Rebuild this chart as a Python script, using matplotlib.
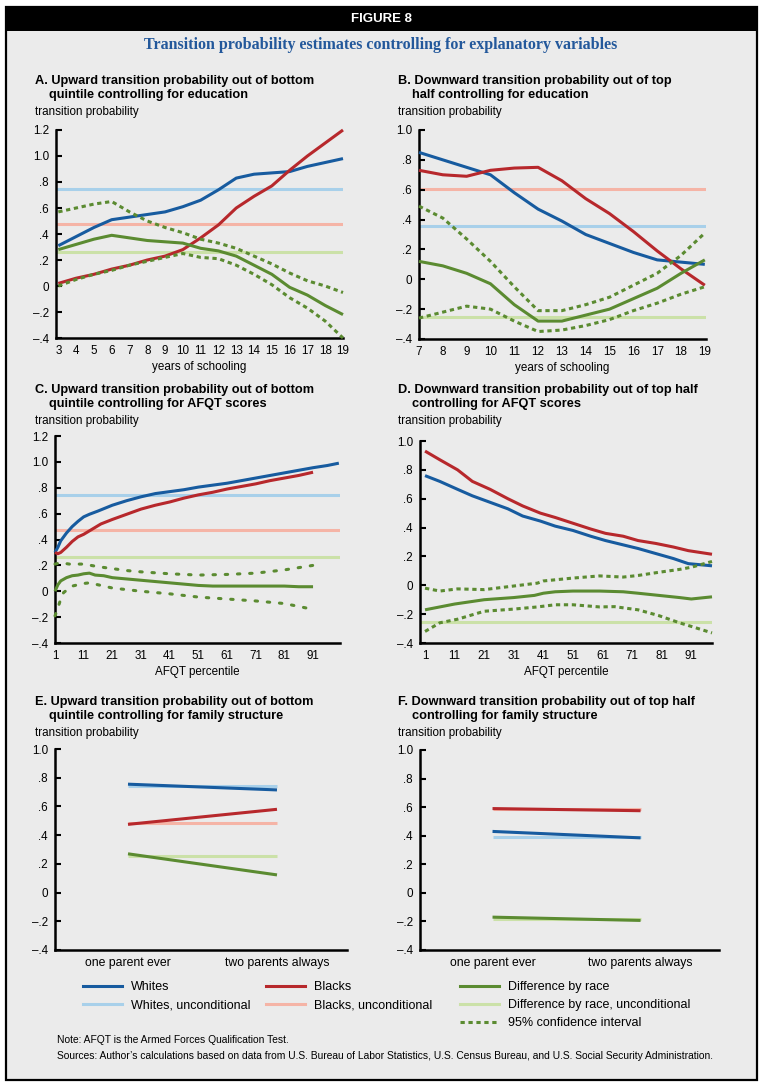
import numpy as np
import matplotlib
matplotlib.use("Agg")
import matplotlib.pyplot as plt
from matplotlib import font_manager
from matplotlib.lines import Line2D
from matplotlib.patches import Rectangle

# ---------------- data ----------------
# Panel A: upward transition, controlling for education (years of schooling)
a_years = [3, 4, 5, 6, 7, 8, 9, 10, 11, 12, 13, 14, 15, 16, 17, 18, 19]
a_whites = [0.31, 0.38, 0.45, 0.51, 0.53, 0.55, 0.57, 0.61, 0.66, 0.74, 0.83, 0.86, 0.87, 0.88, 0.92, 0.95, 0.98]
a_blacks = [0.02, 0.06, 0.09, 0.13, 0.16, 0.20, 0.23, 0.28, 0.37, 0.47, 0.60, 0.69, 0.77, 0.89, 1.00, 1.10, 1.20]
a_diff = [0.28, 0.32, 0.36, 0.39, 0.37, 0.35, 0.34, 0.33, 0.29, 0.27, 0.23, 0.16, 0.09, -0.01, -0.07, -0.15, -0.22]
a_ci_hi = [0.57, 0.60, 0.63, 0.65, 0.57, 0.50, 0.45, 0.41, 0.36, 0.33, 0.29, 0.23, 0.17, 0.10, 0.04, 0.00, -0.05]
a_ci_lo = [0.00, 0.05, 0.09, 0.12, 0.16, 0.19, 0.22, 0.25, 0.22, 0.21, 0.16, 0.09, 0.01, -0.09, -0.17, -0.27, -0.40]
a_unc_whites, a_unc_blacks, a_unc_diff = 0.745, 0.475, 0.265

# Panel B: downward transition, controlling for education
b_years = [7, 8, 9, 10, 11, 12, 13, 14, 15, 16, 17, 18, 19]
b_whites = [0.85, 0.80, 0.75, 0.70, 0.58, 0.47, 0.39, 0.30, 0.24, 0.18, 0.13, 0.115, 0.10]
b_blacks = [0.73, 0.70, 0.69, 0.73, 0.745, 0.75, 0.66, 0.54, 0.44, 0.32, 0.19, 0.07, -0.04]
b_diff = [0.12, 0.09, 0.04, -0.03, -0.17, -0.28, -0.28, -0.24, -0.20, -0.13, -0.06, 0.04, 0.13]
b_ci_hi = [0.49, 0.41, 0.27, 0.12, -0.05, -0.21, -0.21, -0.17, -0.12, -0.04, 0.04, 0.16, 0.31]
b_ci_lo = [-0.26, -0.22, -0.18, -0.20, -0.28, -0.35, -0.34, -0.31, -0.27, -0.21, -0.16, -0.10, -0.05]
b_unc_whites, b_unc_blacks, b_unc_diff = 0.355, 0.605, -0.255

# Panel C: upward transition, controlling for AFQT percentile
c_w_pct = [1, 2, 3, 5, 7, 9, 11, 13, 16, 21, 26, 31, 36, 41, 46, 51, 56, 61, 66, 71, 76, 81, 86, 91, 96, 100]
c_whites = [0.30, 0.34, 0.39, 0.45, 0.50, 0.54, 0.575, 0.595, 0.62, 0.665, 0.70, 0.73, 0.755, 0.77, 0.785, 0.805,
            0.82, 0.835, 0.855, 0.875, 0.895, 0.915, 0.935, 0.955, 0.972, 0.99]
c_b_pct = [1, 2, 3, 5, 7, 9, 11, 14, 17, 21, 26, 31, 36, 41, 46, 51, 56, 61, 66, 71, 76, 81, 86, 91]
c_blacks = [0.30, 0.29, 0.30, 0.34, 0.385, 0.42, 0.44, 0.48, 0.52, 0.555, 0.595, 0.635, 0.665, 0.69, 0.72, 0.745,
            0.765, 0.79, 0.81, 0.83, 0.855, 0.875, 0.895, 0.92]
c_d_pct = [1, 2, 3, 5, 7, 9, 11, 13, 15, 18, 21, 26, 31, 36, 41, 46, 51, 56, 61, 71, 81, 86, 91]
c_diff = [0.0, 0.05, 0.08, 0.105, 0.12, 0.125, 0.135, 0.14, 0.125, 0.12, 0.105, 0.095, 0.085, 0.075, 0.065, 0.055,
          0.045, 0.04, 0.04, 0.04, 0.04, 0.035, 0.035]
c_hi_pct = [1, 3, 6, 11, 16, 21, 26, 31, 41, 51, 61, 71, 81, 91]
c_ci_hi = [0.21, 0.22, 0.21, 0.21, 0.19, 0.175, 0.16, 0.15, 0.135, 0.125, 0.13, 0.14, 0.165, 0.20]
c_lo_pct = [1, 2, 3, 4, 7, 11, 13, 21, 31, 41, 51, 61, 71, 81, 91]
c_ci_lo = [-0.19, -0.13, -0.06, -0.01, 0.04, 0.06, 0.065, 0.025, 0.0, -0.02, -0.045, -0.06, -0.075, -0.095, -0.14]
c_unc_whites, c_unc_blacks, c_unc_diff = 0.745, 0.475, 0.265

# Panel D: downward transition, controlling for AFQT percentile
d_pct = [1, 6, 12, 17, 23, 29, 34, 40, 45, 51, 57, 62, 68, 73, 79, 85, 90, 98]
d_whites = [0.76, 0.72, 0.665, 0.62, 0.575, 0.53, 0.48, 0.445, 0.41, 0.38, 0.34, 0.31, 0.28, 0.255, 0.22, 0.185,
            0.15, 0.135]
d_blacks = [0.93, 0.87, 0.80, 0.72, 0.665, 0.60, 0.55, 0.50, 0.47, 0.43, 0.39, 0.36, 0.34, 0.31, 0.29, 0.265,
            0.24, 0.215]
d_d_pct = [1, 11, 21, 31, 38, 41, 45, 51, 60, 68, 73, 80, 87, 91, 98]
d_diff = [-0.17, -0.13, -0.10, -0.085, -0.07, -0.055, -0.045, -0.04, -0.04, -0.045, -0.055, -0.07, -0.085,
          -0.095, -0.08]
d_hi_pct = [1, 6, 12, 21, 31, 39, 41, 51, 60, 68, 73, 80, 87, 91, 98]
d_ci_hi = [-0.02, -0.04, -0.025, -0.03, -0.005, 0.015, 0.03, 0.05, 0.065, 0.057, 0.068, 0.09, 0.11, 0.125, 0.165]
d_lo_pct = [1, 6, 12, 21, 31, 39, 45, 51, 60, 65, 73, 80, 87, 91, 98]
d_ci_lo = [-0.32, -0.26, -0.235, -0.18, -0.165, -0.15, -0.135, -0.135, -0.15, -0.148, -0.17, -0.21, -0.26,
           -0.285, -0.33]
d_unc_diff = -0.255

# Panels E/F: family structure
family_cats = ["one parent ever", "two parents always"]
e_whites = [0.755, 0.715]
e_blacks = [0.475, 0.58]
e_diff = [0.27, 0.123]
e_unc_whites, e_unc_blacks, e_unc_diff = 0.745, 0.485, 0.255
f_whites = [0.43, 0.385]
f_blacks = [0.59, 0.575]
f_diff = [-0.17, -0.193]
f_unc_whites, f_unc_blacks, f_unc_diff = 0.39, 0.59, -0.18

# tick labels
yt_12 = [-0.4, -0.2, 0, 0.2, 0.4, 0.6, 0.8, 1.0, 1.2]
yl_12 = ["\u2013.4", "\u2013.2", "0", ".2", ".4", ".6", ".8", "1.0", "1.2"]
yt_10 = [-0.4, -0.2, 0, 0.2, 0.4, 0.6, 0.8, 1.0]
yl_10 = ["\u2013.4", "\u2013.2", "0", ".2", ".4", ".6", ".8", "1.0"]
afqt_ticks = [1, 11, 21, 31, 41, 51, 61, 71, 81, 91]

legend_labels = ["Whites", "Whites, unconditional", "Blacks", "Blacks, unconditional",
                 "Difference by race", "Difference by race, unconditional", "95% confidence interval"]

# ---------------- style ----------------
names = {f.name for f in font_manager.fontManager.ttflist}
SANS = "Liberation Sans" if "Liberation Sans" in names else "DejaVu Sans"
NARROW = "Liberation Sans Narrow" if "Liberation Sans Narrow" in names else SANS
SERIF = "Liberation Serif" if "Liberation Serif" in names else "DejaVu Serif"
plt.rcParams["font.family"] = [SANS, "DejaVu Sans"]

C_W = "#175b9f"
C_B = "#b7282c"
C_D = "#5b8b31"
C_WU = "#a8d0ea"
C_BU = "#f5b4a6"
C_DU = "#cbe1a8"
BG = "#ebebeb"
LW = 2.2

FS_TICK = 8.4
FS_TITLE = 9.2
FS_LEG = 9.0
FS_NOTE = 7.4

W, H = 761, 1087
fig = plt.figure(figsize=(W / 100, H / 100), dpi=100)
fig.patch.set_facecolor("white")


def fx(x):
    return x / W


def fy(y):
    return 1 - y / H


# frame and header
fig.patches.append(Rectangle((fx(6), fy(1080)), (757 - 6) / W, (1080 - 7) / H, transform=fig.transFigure,
                             facecolor=BG, edgecolor="black", lw=1.6, zorder=-3))
fig.patches.append(Rectangle((fx(6), fy(31)), (757 - 6) / W, (31 - 7) / H, transform=fig.transFigure,
                             facecolor="black", edgecolor="black", lw=0, zorder=-2))
fig.text(fx(381), fy(19), "FIGURE 8", color="white", fontsize=9.5, fontweight="bold", family=NARROW,
         ha="center", va="center")
fig.text(fx(381), fy(45), "Transition probability estimates controlling for explanatory variables",
         color="#23589b", fontsize=11.5, fontweight="bold", family=SERIF, ha="center", va="center")


def add_ax(l, t, r, b):
    ax = fig.add_axes([fx(l), fy(b), (r - l) / W, (b - t) / H])
    ax.set_facecolor("none")
    for s in ["top", "right"]:
        ax.spines[s].set_visible(False)
    for s in ["left", "bottom"]:
        ax.spines[s].set_linewidth(1.8)
    ax.tick_params(axis="y", direction="in", length=4, width=1.5, labelsize=FS_TICK, pad=5)
    ax.tick_params(axis="x", length=0, labelsize=FS_TICK, pad=5)
    return ax


def panel_text(x, y, line1, line2):
    fig.text(fx(x), fy(y), line1, fontsize=FS_TITLE, fontweight="bold", family=NARROW, va="center", ha="left")
    fig.text(fx(x + 14), fy(y + 14), line2, fontsize=FS_TITLE, fontweight="bold", family=NARROW,
             va="center", ha="left")
    fig.text(fx(x), fy(y + 31), "transition probability", fontsize=FS_TICK, va="center", ha="left")


def hline(ax, y, color):
    ax.axhline(y, color=color, lw=LW, zorder=1)


def line(ax, x, y, color, **kw):
    ax.plot(x, y, color=color, lw=LW, clip_on=False, zorder=3, solid_capstyle="butt", **kw)


DASH = (0, (1.4, 1.2))
DOT = (0, (0.8, 3.2))

# Panel A
panel_text(35, 81, "A. Upward transition probability out of bottom", "quintile controlling for education")
ax = add_ax(56, 130, 343, 338)
hline(ax, a_unc_whites, C_WU); hline(ax, a_unc_blacks, C_BU); hline(ax, a_unc_diff, C_DU)
line(ax, a_years, a_whites, C_W); line(ax, a_years, a_blacks, C_B); line(ax, a_years, a_diff, C_D)
line(ax, a_years, a_ci_hi, C_D, ls=DASH); line(ax, a_years, a_ci_lo, C_D, ls=DASH)
ax.set_xlim(2.87, 19); ax.set_ylim(-0.4, 1.2)
ax.set_xticks(a_years); ax.set_xticklabels([str(v) for v in a_years])
ax.set_yticks(yt_12); ax.set_yticklabels(yl_12)
ax.set_xlabel("years of schooling", fontsize=FS_TICK, labelpad=3)

# Panel B
panel_text(398, 81, "B. Downward transition probability out of top", "half controlling for education")
ax = add_ax(419, 130, 706, 339)
hline(ax, b_unc_whites, C_WU); hline(ax, b_unc_blacks, C_BU); hline(ax, b_unc_diff, C_DU)
line(ax, b_years, b_whites, C_W); line(ax, b_years, b_blacks, C_B); line(ax, b_years, b_diff, C_D)
line(ax, b_years, b_ci_hi, C_D, ls=DASH); line(ax, b_years, b_ci_lo, C_D, ls=DASH)
ax.set_xlim(7, 19.05); ax.set_ylim(-0.4, 1.0)
ax.set_xticks(b_years); ax.set_xticklabels([str(v) for v in b_years])
ax.set_yticks(yt_10); ax.set_yticklabels(yl_10)
ax.set_xlabel("years of schooling", fontsize=FS_TICK, labelpad=3)

# Panel C
panel_text(35, 390, "C. Upward transition probability out of bottom", "quintile controlling for AFQT scores")
ax = add_ax(55, 436, 340, 643)
hline(ax, c_unc_whites, C_WU); hline(ax, c_unc_blacks, C_BU); hline(ax, c_unc_diff, C_DU)
line(ax, c_w_pct, c_whites, C_W); line(ax, c_b_pct, c_blacks, C_B); line(ax, c_d_pct, c_diff, C_D)
line(ax, c_hi_pct, c_ci_hi, C_D, ls=DOT, dash_capstyle="round")
line(ax, c_lo_pct, c_ci_lo, C_D, ls=DOT, dash_capstyle="round")
ax.set_xlim(1, 100.4); ax.set_ylim(-0.4, 1.2)
ax.set_xticks(afqt_ticks); ax.set_xticklabels([str(v) for v in afqt_ticks])
ax.set_yticks(yt_12); ax.set_yticklabels(yl_12)
ax.set_xlabel("AFQT percentile", fontsize=FS_TICK, labelpad=3)

# Panel D
panel_text(398, 390, "D. Downward transition probability out of top half", "controlling for AFQT scores")
ax = add_ax(420, 441, 712, 643)
hline(ax, d_unc_diff, C_DU)
line(ax, d_pct, d_whites, C_W); line(ax, d_pct, d_blacks, C_B); line(ax, d_d_pct, d_diff, C_D)
line(ax, d_hi_pct, d_ci_hi, C_D, ls=DASH); line(ax, d_lo_pct, d_ci_lo, C_D, ls=DASH)
ax.set_xlim(-0.7, 98); ax.set_ylim(-0.4, 1.0)
ax.set_xticks(afqt_ticks); ax.set_xticklabels([str(v) for v in afqt_ticks])
ax.set_yticks(yt_10); ax.set_yticklabels(yl_10)
ax.set_xlabel("AFQT percentile", fontsize=FS_TICK, labelpad=3)

# Panel E
xcat = np.arange(len(family_cats))
panel_text(35, 702, "E. Upward transition probability out of bottom", "quintile controlling for family structure")
ax = add_ax(55, 749, 347, 950)
for v, c in [(e_unc_whites, C_WU), (e_unc_blacks, C_BU), (e_unc_diff, C_DU)]:
    ax.plot(xcat, [v] * len(xcat), color=c, lw=LW, zorder=1, solid_capstyle="butt")
line(ax, xcat, e_whites, C_W); line(ax, xcat, e_blacks, C_B); line(ax, xcat, e_diff, C_D)
ax.set_xlim(-0.49, 1.47); ax.set_ylim(-0.4, 1.0)
ax.set_xticks(xcat); ax.set_xticklabels(family_cats, family=NARROW, fontsize=FS_TICK + 0.4)
ax.set_yticks(yt_10); ax.set_yticklabels(yl_10)

# Panel F
panel_text(398, 702, "F. Downward transition probability out of top half", "controlling for family structure")
ax = add_ax(420, 750, 719, 950)
for v, c in [(f_unc_whites, C_WU), (f_unc_blacks, C_BU), (f_unc_diff, C_DU)]:
    ax.plot(xcat, [v] * len(xcat), color=c, lw=LW, zorder=1, solid_capstyle="butt")
line(ax, xcat, f_whites, C_W); line(ax, xcat, f_blacks, C_B); line(ax, xcat, f_diff, C_D)
ax.set_xlim(-0.49, 1.53); ax.set_ylim(-0.4, 1.0)
ax.set_xticks(xcat); ax.set_xticklabels(family_cats, family=NARROW, fontsize=FS_TICK + 0.4)
ax.set_yticks(yt_10); ax.set_yticklabels(yl_10)

# Legend (three columns)
h = [Line2D([], [], color=C_W, lw=LW), Line2D([], [], color=C_WU, lw=LW),
     Line2D([], [], color=C_B, lw=LW), Line2D([], [], color=C_BU, lw=LW),
     Line2D([], [], color=C_D, lw=LW), Line2D([], [], color=C_DU, lw=LW),
     Line2D([], [], color=C_D, lw=LW, ls=DASH)]
cols = [(83, [0, 1]), (266, [2, 3]), (460, [4, 5, 6])]
for x0, idx in cols:
    fig.legend([h[i] for i in idx], [legend_labels[i] for i in idx], loc="upper left",
               bbox_to_anchor=(fx(x0), fy(981)), frameon=False, borderpad=0, borderaxespad=0,
               handlelength=3.1, handletextpad=0.75, labelspacing=0.48,
               prop={"family": NARROW, "size": FS_LEG})

fig.text(fx(57), fy(1040), "Note: AFQT is the Armed Forces Qualification Test.", fontsize=FS_NOTE, family=NARROW,
         va="center", ha="left")
fig.text(fx(57), fy(1056), "Sources: Author\u2019s calculations based on data from U.S. Bureau of Labor Statistics, "
         "U.S. Census Bureau, and U.S. Social Security Administration.", fontsize=FS_NOTE, family=NARROW,
         va="center", ha="left")

fig.savefig("out.png", dpi=100, facecolor="white")
